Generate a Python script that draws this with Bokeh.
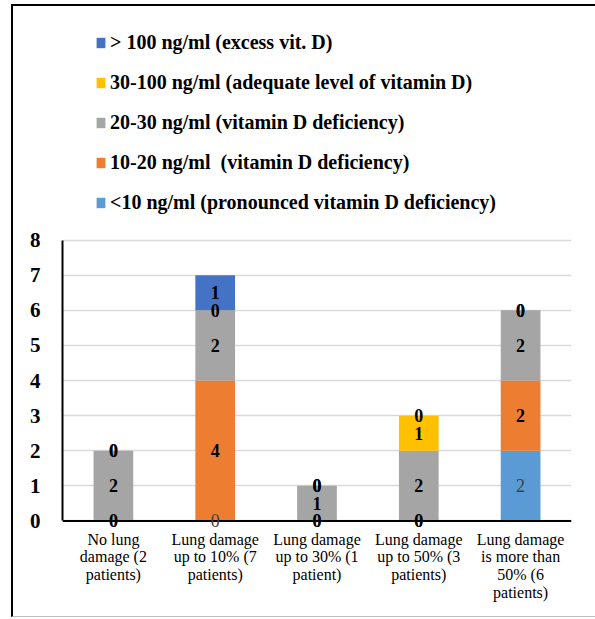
from bokeh.plotting import figure
from bokeh.models import (ColumnDataSource, Legend, LegendItem, FactorRange,
                          Range1d, FixedTicker, LabelSet, Span)
from bokeh.core.properties import value
from bokeh.embed import file_html
from bokeh.resources import INLINE
import numpy as np

categories = [
    "No lung\ndamage (2\npatients)",
    "Lung damage\nup to 10% (7\npatients)",
    "Lung damage\nup to 30% (1\npatient)",
    "Lung damage\nup to 50% (3\npatients)",
    "Lung damage\nis more than\n50% (6\npatients)",
]
series_names = [
    "<10 ng/ml (pronounced vitamin D deficiency)",
    "10-20 ng/ml  (vitamin D deficiency)",
    "20-30 ng/ml (vitamin D deficiency)",
    "30-100 ng/ml (adequate level of vitamin D)",
    "> 100 ng/ml (excess vit. D)",
]
lt10 = [0, 0, 0, 0, 2]
v10_20 = [0, 4, 0, 0, 2]
v20_30 = [2, 2, 1, 2, 2]
v30_100 = [0, 0, 0, 1, 0]
gt100 = [0, 1, 0, 0, 0]
y_ticks = [0, 1, 2, 3, 4, 5, 6, 7, 8]

colors = ["#5B9BD5", "#ED7D31", "#A5A5A5", "#FFC000", "#4472C4"]
keys = ["s0", "s1", "s2", "s3", "s4"]
series_values = [lt10, v10_20, v20_30, v30_100, gt100]

SERIF = "Liberation Serif"

data = {"cat": categories}
for k, v in zip(keys, series_values):
    data[k] = v
src = ColumnDataSource(data)

p = figure(width=584, height=613, x_range=FactorRange(*categories),
           y_range=Range1d(-0.3, 14.652), output_backend="svg",
           toolbar_location=None,
           min_border_left=49, min_border_right=26, min_border_top=0,
           min_border_bottom=88)
p.styles = {"margin-left": "11px", "margin-top": "4px",
            "border-left": "2px solid black", "border-top": "2px solid black",
            "border-bottom": "1px solid #BDBDBD"}
p.outline_line_color = None

rs = p.vbar_stack(keys, x="cat", width=0.39, source=src, color=colors,
                  line_color=None)

# zero line (category axis line)
p.add_layout(Span(location=0, dimension="width", line_color="black",
                  line_width=2))

# data labels at segment midpoints
lx, ly, lt, lc, lst = [], [], [], [], []
cum = np.zeros(len(categories))
for i, v in enumerate(series_values):
    v = np.array(v, dtype=float)
    mid = cum + v / 2
    for j, c in enumerate(categories):
        lx.append(c)
        ly.append(mid[j])
        lt.append(str(int(v[j])))
        lc.append("#404040" if i == 0 else "black")
        lst.append("normal" if i == 0 else "bold")
    cum = cum + v
lsrc = ColumnDataSource(dict(x=lx, y=ly, t=lt, c=lc, st=lst))
labels = LabelSet(x="x", y="y", text="t", source=lsrc, text_align="center",
                  text_baseline="middle", text_font=value(SERIF),
                  text_font_size="18px", text_color="c", text_font_style="st")
p.add_layout(labels)

# axes
p.yaxis.ticker = FixedTicker(ticks=y_ticks)
p.yaxis.bounds = (0, 8)
p.yaxis.major_tick_line_color = None
p.yaxis.minor_tick_line_color = None
p.yaxis.axis_line_color = "black"
p.yaxis.axis_line_width = 2
p.yaxis.major_label_text_font = SERIF
p.yaxis.major_label_text_font_style = "bold"
p.yaxis.major_label_text_font_size = "21px"
p.yaxis.major_label_text_color = "black"
p.yaxis.major_label_standoff = 16

p.xaxis.major_tick_line_color = None
p.xaxis.axis_line_color = None
p.xaxis.major_label_text_font = SERIF
p.xaxis.major_label_text_font_size = "16px"
p.xaxis.major_label_text_line_height = 1.05
p.xaxis.major_label_text_color = "black"
p.xaxis.major_label_standoff = -7

p.xgrid.grid_line_color = None
p.ygrid.grid_line_color = "#D9D9D9"
p.ygrid.grid_line_width = 1.5

items = [LegendItem(label=series_names[i], renderers=[rs[i]]) for i in range(4, -1, -1)]
legend = Legend(items=items, location=(33, 317), orientation="vertical",
                glyph_width=11, glyph_height=13, label_height=17, spacing=17,
                label_standoff=4, padding=0, margin=0,
                border_line_color=None, background_fill_alpha=0,
                label_text_font=SERIF, label_text_font_style="bold",
                label_text_font_size="20px", label_text_color="black")
p.add_layout(legend)

open("out.html", "w").write(file_html(p, INLINE))
